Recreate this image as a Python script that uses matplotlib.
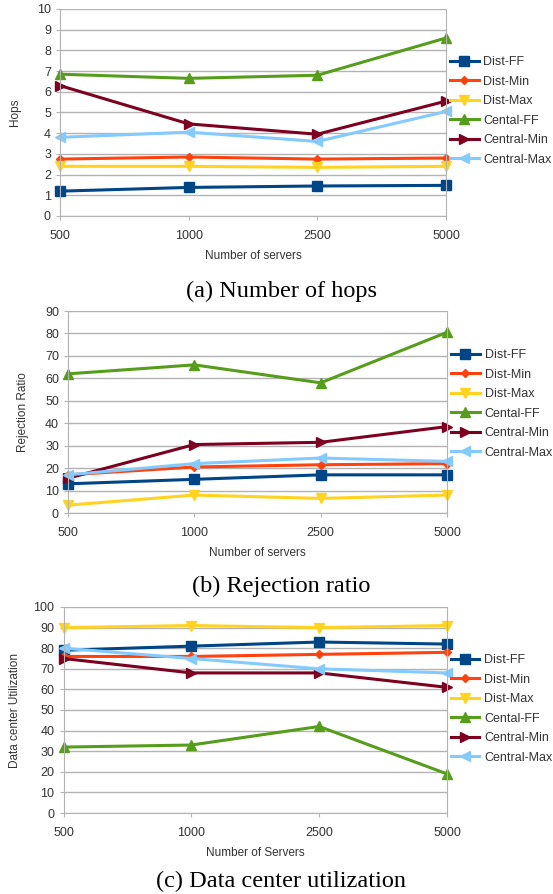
import numpy as np
import matplotlib.pyplot as plt

servers = ["500", "1000", "2500", "5000"]
labels = ["Dist-FF", "Dist-Min", "Dist-Max", "Cental-FF", "Central-Min", "Central-Max"]

hops_dist_ff = [1.2, 1.38, 1.45, 1.48]
hops_dist_min = [2.75, 2.85, 2.75, 2.8]
hops_dist_max = [2.4, 2.4, 2.35, 2.4]
hops_cent_ff = [6.85, 6.65, 6.8, 8.6]
hops_cent_min = [6.3, 4.45, 3.95, 5.55]
hops_cent_max = [3.8, 4.05, 3.6, 5.05]

rej_dist_ff = [13, 15, 17, 17]
rej_dist_min = [17, 20.5, 21.5, 22]
rej_dist_max = [3.5, 8, 6.5, 8]
rej_cent_ff = [62, 66, 58, 80.5]
rej_cent_min = [15.5, 30.5, 31.5, 38.5]
rej_cent_max = [17, 22, 24.5, 23]

util_dist_ff = [79, 81, 83, 82]
util_dist_min = [76, 76, 77, 78]
util_dist_max = [90, 91, 90, 91]
util_cent_ff = [32, 33, 42, 19]
util_cent_min = [75, 68, 68, 61]
util_cent_max = [80, 75, 70, 68]

colors = ["#004586", "#ff420e", "#ffd320", "#579d1c", "#7e0021", "#83caff"]
markers = ["s", "D", "v", "^", ">", "<"]
msizes = [7, 4.5, 7, 7, 7, 7]

plt.rcParams['font.family'] = ['Liberation Sans', 'DejaVu Sans']
grid_c = "#b3b3b3"
text_c = "#333333"

fig = plt.figure(figsize=(5.53, 8.94), dpi=100)
W, H = 553, 894


def panel(rect_px, series, ymax, ystep, ylabel, xlabel, caption, cap_y, leg_y, ylab_x):
    l, t, r, b = rect_px
    ax = fig.add_axes([l / W, 1 - b / H, (r - l) / W, (b - t) / H])
    x = np.arange(len(servers))
    for ys, lab, c, m, ms in zip(series, labels, colors, markers, msizes):
        ax.plot(x, ys, color=c, marker=m, markersize=ms, linewidth=2.2, label=lab, clip_on=False)
    ax.set_xlim(0, 3)
    ax.set_ylim(0, ymax)
    ax.set_yticks(np.arange(0, ymax + 0.1, ystep))
    ax.set_xticks(x)
    ax.set_xticklabels(servers)
    ax.grid(axis="y", color=grid_c, linewidth=1.0)
    ax.set_axisbelow(True)
    for s in ax.spines.values():
        s.set_color(grid_c)
    ax.spines["top"].set_visible(False)
    ax.tick_params(colors=grid_c, labelcolor=text_c, labelsize=9, length=3)
    ax.tick_params(axis="x", pad=7)
    ax.set_ylabel(ylabel, fontsize=8.5, color=text_c)
    ax.yaxis.set_label_coords(ylab_x, 0.5)
    ax.set_xlabel(xlabel, fontsize=8.5, color=text_c, labelpad=6)
    leg = ax.legend(loc="center left", bbox_to_anchor=(1.0, leg_y), frameon=False,
                    fontsize=9, handlelength=2.3, handletextpad=0.4, labelspacing=0.6,
                    borderaxespad=0.2, borderpad=0.1)
    for txt in leg.get_texts():
        txt.set_color(text_c)
    fig.text(281 / W, 1 - cap_y / H, caption, ha="center", va="center",
             fontsize=17.5, family="Liberation Serif")
    return ax


panel((60, 9, 446, 216),
      [hops_dist_ff, hops_dist_min, hops_dist_max, hops_cent_ff, hops_cent_min, hops_cent_max],
      10, 1, "Hops", "Number of servers", "(a) Number of hops", 291, 0.507, -0.101)
panel((68, 311, 447, 513),
      [rej_dist_ff, rej_dist_min, rej_dist_max, rej_cent_ff, rej_cent_min, rej_cent_max],
      90, 10, "Rejection Ratio", "Number of servers", "(b) Rejection ratio", 586, 0.54, -0.103)
panel((63.5, 607, 447, 813),
      [util_dist_ff, util_dist_min, util_dist_max, util_cent_ff, util_cent_min, util_cent_max],
      100, 10, "Data center Utilization", "Number of Servers", "(c) Data center utilization", 881, 0.505, -0.111)

fig.savefig("out.png", dpi=100)
